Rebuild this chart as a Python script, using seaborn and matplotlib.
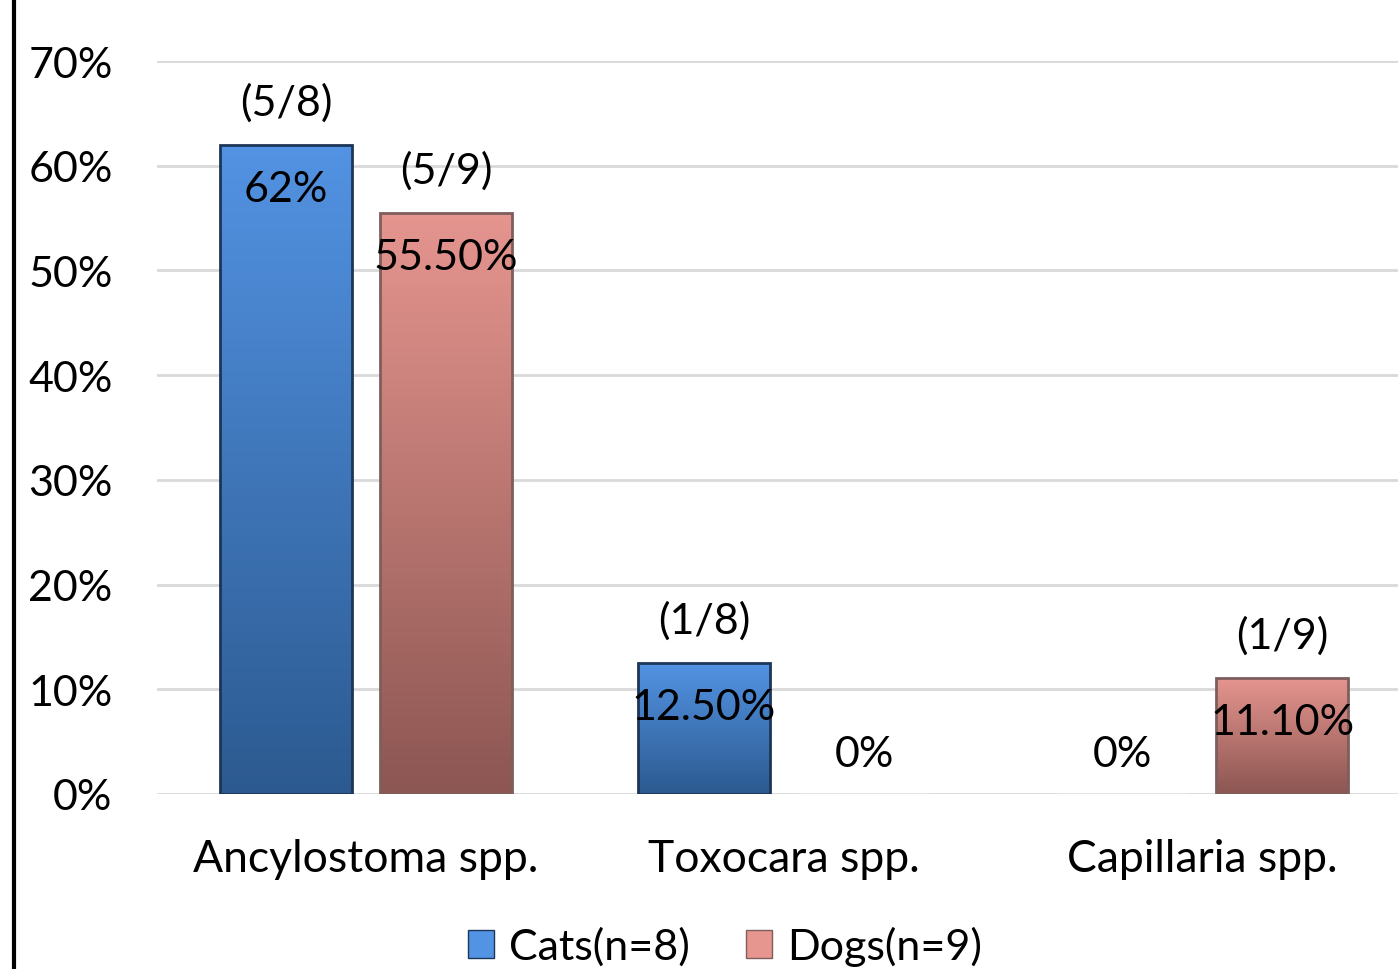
import numpy as np
import pandas as pd
import matplotlib.pyplot as plt
import seaborn as sns
from matplotlib.colors import LinearSegmentedColormap
from matplotlib.patches import Patch
from matplotlib.lines import Line2D

categories = ["Ancylostoma spp.", "Toxocara spp.", "Capillaria spp."]
groups = ["Cats(n=8)", "Dogs(n=9)"]
cats = [62.0, 12.5, 0.0]
dogs = [55.5, 0.0, 11.1]
cat_pct = ["62%", "12.50%", "0%"]
dog_pct = ["55.50%", "0%", "11.10%"]
cat_count = ["(5/8)", "(1/8)", ""]
dog_count = ["(5/9)", "", "(1/9)"]

df = pd.DataFrame({
    "Parasite": categories * 2,
    "Prevalence": cats + dogs,
    "Group": [groups[0]] * 3 + [groups[1]] * 3,
})

sns.set_style("white")
plt.rcParams["font.family"] = ["Lato", "DejaVu Sans"]
plt.rcParams["text.color"] = "black"
plt.rcParams["xtick.color"] = "black"
plt.rcParams["ytick.color"] = "black"

top_cols = {"Cats(n=8)": "#5393e3", "Dogs(n=9)": "#e6958f"}
bot_cols = {"Cats(n=8)": "#2c5a90", "Dogs(n=9)": "#8c5652"}
edge_cols = {"Cats(n=8)": "#1d3557", "Dogs(n=9)": "#7d5e5c"}

fig = plt.figure(figsize=(13.98, 9.70), dpi=100)
ax = fig.add_axes([157 / 1398, 175 / 970, 1254 / 1398, (795 - 62) / 970])

sns.barplot(data=df, x="Parasite", y="Prevalence", hue="Group",
            palette=top_cols, width=0.766, gap=0.175, ax=ax, legend=False)

fs = 31
labels_pct = [cat_pct, dog_pct]
labels_cnt = [cat_count, dog_count]
for gi, cont in enumerate(ax.containers):
    g = groups[gi]
    cmap = LinearSegmentedColormap.from_list(g, [bot_cols[g], top_cols[g]])
    for i, bar in enumerate(cont):
        x0, w, h = bar.get_x(), bar.get_width(), bar.get_height()
        xc = x0 + w / 2
        if h > 0:
            grad = np.linspace(0, 1, 256).reshape(-1, 1)
            im = ax.imshow(grad, cmap=cmap, origin="lower", aspect="auto",
                           extent=(x0, x0 + w, 0, h), zorder=2)
            im.set_clip_path(bar)
            bar.set_facecolor("none")
            bar.set_edgecolor(edge_cols[g])
            bar.set_linewidth(2)
            bar.set_zorder(3)
            ax.annotate(labels_cnt[gi][i], (xc, h), xytext=(0, 43),
                        textcoords="offset pixels", ha="center", va="center",
                        fontsize=fs, zorder=5)
            ax.annotate(labels_pct[gi][i], (xc, h), xytext=(0, -44),
                        textcoords="offset pixels", ha="center", va="center",
                        fontsize=fs, zorder=5)
        else:
            ax.annotate(labels_pct[gi][i], (xc, 0), xytext=(0, 40),
                        textcoords="offset pixels", ha="center", va="center",
                        fontsize=fs, zorder=5)

ax.set_xlim(-0.5, 2.5)
ax.set_ylim(0, 70)
ax.set_yticks(range(0, 71, 10))
ax.set_yticklabels([f"{v}%" for v in range(0, 71, 10)], fontsize=fs)
ax.tick_params(axis="y", length=0, pad=32)
ax.tick_params(axis="x", length=0, pad=32, labelsize=32)
ax.set_xlabel("")
ax.set_ylabel("")
ax.yaxis.grid(True, color="#d9d9d9", linewidth=2)
ax.set_axisbelow(True)
for s in ax.spines.values():
    s.set_visible(False)

handles = [Patch(facecolor=top_cols[g], edgecolor=edge_cols[g], label=g) for g in groups]
fig.legend(handles=handles, loc="center", bbox_to_anchor=(725 / 1398, 1 - 947 / 970),
           ncol=2, frameon=False, fontsize=31, handlelength=0.6, handleheight=0.6,
           handletextpad=0.35, columnspacing=1.3)

fig.add_artist(Line2D([14 / 1398, 14 / 1398], [0, 1], color="black", linewidth=3))

fig.savefig("out.png", dpi=100)
